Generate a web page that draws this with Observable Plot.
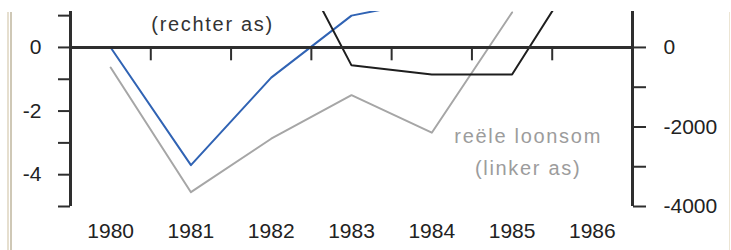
<!DOCTYPE html>
<html>
<head>
<meta charset="utf-8">
<script src="https://cdn.jsdelivr.net/npm/d3@7"></script>
<script src="https://cdn.jsdelivr.net/npm/@observablehq/plot@0.6"></script>
<style>
  html, body { margin: 0; padding: 0; background: #fff; }
  #wrap { position: relative; width: 731px; height: 250px; overflow: hidden; }
  .edge { position: absolute; top: 12px; bottom: 0; }
  #e1 { left: 7px; width: 2px; background: #e6dfcf; }
  #e2 { left: 10px; width: 2px; background: #cfc8b6; }
  #e3 { left: 729px; width: 1px; background: #ece5d3; }
</style>
</head>
<body>
<div id="wrap">
  <div class="edge" id="e1"></div>
  <div class="edge" id="e2"></div>
  <div class="edge" id="e3"></div>
</div>
<script>
// ---- data ----
const years = [1980, 1981, 1982, 1983, 1984, 1985, 1986];
// blue line, left axis (1980-1984)
const blueYears = [1980, 1981, 1982, 1983, 1984];
const blueValues = [0, -3.7, -0.95, 1.0, 1.5];
// grey line "reële loonsom", left axis (1980-1985)
const loonsomYears = [1980, 1981, 1982, 1983, 1984, 1985];
const loonsomValues = [-0.63, -4.55, -2.87, -1.5, -2.68, 1.1];
// black line, right axis (1982-1986)
const werkYears = [1982, 1983, 1984, 1985, 1986];
const werkValues = [3400, -450, -680, -680, 2500];
// axis ticks
const leftTicks = [1, 0, -1, -2, -3, -4, -5];
const leftLabels = [0, -2, -4];
const rightTicks = [0, -1000, -2000, -3000, -4000];
const rightLabels = [0, -2000, -4000];
const midYearTicks = [1980.5, 1981.5, 1982.5, 1983.5, 1984.5, 1985.5];
const rightPerLeft = 800; // right-axis units per left-axis unit

const blue = blueYears.map((x, i) => ({x, y: blueValues[i]}));
const grey = loonsomYears.map((x, i) => ({x, y: loonsomValues[i]}));
const black = werkYears.map((x, i) => ({x, y: werkValues[i] / rightPerLeft}));

const axisColor = "#2e2e2e";

const chart = Plot.plot({
  width: 731,
  height: 250,
  marginTop: 11,
  marginBottom: 44,
  marginLeft: 70,
  marginRight: 99,
  style: {fontFamily: "Liberation Sans, Arial, sans-serif", fontSize: "21px", color: "#222", background: "transparent"},
  x: {domain: [1979.5, 1986.5], axis: null},
  y: {domain: [-5, 1.13], axis: null},
  marks: [
    // data lines
    Plot.line(grey, {x: "x", y: "y", stroke: "#a6a6a6", strokeWidth: 2, clip: true}),
    Plot.line(blue, {x: "x", y: "y", stroke: "#3063b4", strokeWidth: 2, clip: true}),
    Plot.line(black, {x: "x", y: "y", stroke: "#1e1e1e", strokeWidth: 2, clip: true}),
    // axes lines
    Plot.ruleY([0], {stroke: axisColor, strokeWidth: 3}),
    Plot.ruleX([1979.5], {stroke: axisColor, strokeWidth: 3}),
    Plot.ruleX([1986.5], {stroke: axisColor, strokeWidth: 3}),
    Plot.ruleX(midYearTicks, {y1: 0, y2: -0.42, stroke: axisColor, strokeWidth: 2}),
    // left axis
    Plot.axisY(leftTicks, {
      anchor: "left", label: null, tickSize: 12, tickPadding: 17, stroke: axisColor, strokeWidth: 2,
      tickFormat: d => leftLabels.includes(d) ? String(d) : ""
    }),
    // right axis
    Plot.axisY(rightTicks.map(d => d / rightPerLeft), {
      anchor: "right", label: null, tickSize: 13, tickPadding: 18, stroke: axisColor, strokeWidth: 2,
      tickFormat: d => {
        const v = Math.round(d * rightPerLeft);
        return rightLabels.includes(v) ? String(v) : "";
      }
    }),
    // bottom year labels
    Plot.axisX(years, {anchor: "bottom", label: null, tickSize: 0, tickPadding: 17, tickFormat: d => String(d)}),
    // annotations
    Plot.text(["(rechter as)"], {x: 1981.27, y: 0.72, fontSize: 20, fill: "#333"}),
    Plot.text(["reële loonsom\n(linker as)"], {x: 1985.2, y: -3.2, fontSize: 20, lineHeight: 1.6, fill: "#9c9c9c"})
  ]
});
document.getElementById("wrap").appendChild(chart);
chart.style.position = "absolute";
chart.style.left = "0";
chart.style.top = "0";
chart.querySelectorAll("text").forEach(t => {
  if (t.textContent.includes("loonsom") || t.textContent.includes("linker") || t.textContent.includes("rechter")) {
    t.setAttribute("letter-spacing", "1.7");
  }
});
</script>
</body>
</html>
